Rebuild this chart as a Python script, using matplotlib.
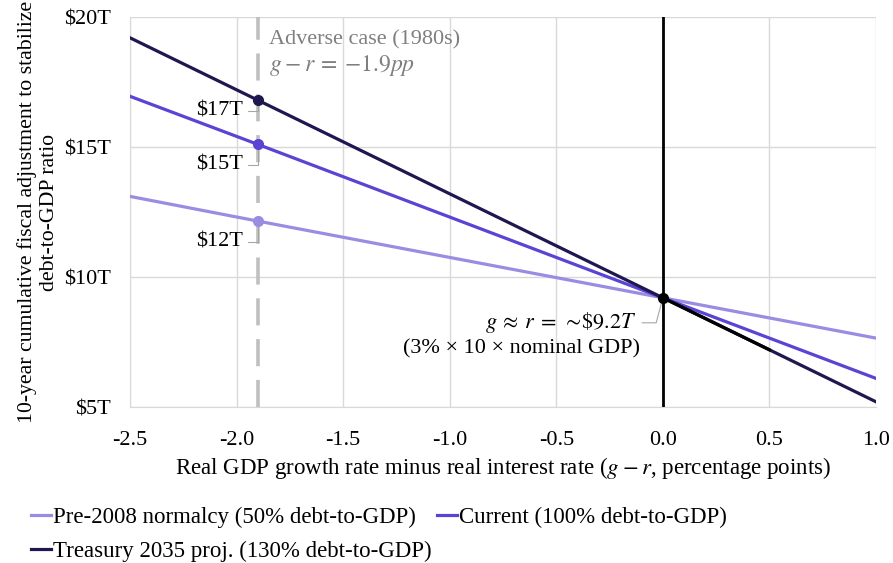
import matplotlib.pyplot as plt
from matplotlib.ticker import FuncFormatter, MultipleLocator

plt.rcParams['font.family'] = ['Liberation Serif', 'DejaVu Serif']
plt.rcParams['mathtext.fontset'] = 'stix'
plt.rcParams['axes.unicode_minus'] = False

# g - r (percentage points) and fiscal adjustment ($T)
gr = [-2.5, -1.9, 0.0, 1.0]
pre2008 = [13.1, 12.15, 9.2, 7.65]
current = [16.95, 15.1, 9.2, 6.1]
treasury = [19.2, 16.8, 9.2, 5.2]
names = ['Pre-2008 normalcy (50% debt-to-GDP)',
         'Current (100% debt-to-GDP)',
         'Treasury 2035 proj. (130% debt-to-GDP)']
colors = ['#9b8ce3', '#5a44d4', '#1e1750']

adverse_x = -1.9
adverse_labels = ['$12T', '$15T', '$17T']
black_x = [0.0, 0.5]
black_y = [9.2, 7.2]

FS = 16

fig = plt.figure(figsize=(8.93, 5.63), dpi=100)
ax = fig.add_axes([130/893, 1-407/563, (876-130)/893, (407-17)/563])

ax.set_xlim(-2.5, 1.0)
ax.set_ylim(5, 20)
ax.xaxis.set_major_locator(MultipleLocator(0.5))
ax.yaxis.set_major_locator(MultipleLocator(5))
ax.xaxis.set_major_formatter(FuncFormatter(lambda v, p: '%.1f' % v))
ax.yaxis.set_major_formatter(FuncFormatter(lambda v, p: '$%dT' % v))
ax.grid(True, color='#d9d9d9', lw=1)
ax.set_axisbelow(True)
for s in ['top', 'right']:
    ax.spines[s].set_visible(False)
for s in ['left', 'bottom']:
    ax.spines[s].set_color('#d9d9d9')
ax.tick_params(length=0, labelsize=FS)
ax.tick_params(axis='x', pad=17)
ax.tick_params(axis='y', pad=14)

# adverse case marker
ax.axvline(adverse_x, color='#bfbfbf', lw=2.6, ls=(0, (7.5, 3.8)), zorder=2)
ax.axvline(0, color='black', lw=2, zorder=4)

series = [pre2008, current, treasury]
lines = []
for ys, c, n in zip(series, colors, names):
    ln, = ax.plot(gr, ys, color=c, lw=2.3, label=n, zorder=3)
    lines.append(ln)
    i = gr.index(adverse_x)
    ax.plot(adverse_x, ys[i], 'o', color=c, ms=7, zorder=5)
ax.plot(black_x, black_y, color='black', lw=2.3, zorder=4)
ax.plot(0, 9.2, 'o', color='black', ms=7, zorder=6)

# value labels at the adverse case
offs = [(-11, -15), (-11, -14.5), (-11, -7.5)]
for ys, lab, off in zip(series, adverse_labels, offs):
    i = gr.index(adverse_x)
    ax.annotate(lab, xy=(adverse_x, ys[i]), xytext=off, textcoords='offset points',
                ha='right', va='center', fontsize=FS,
                arrowprops=dict(arrowstyle='-', color='#a6a6a6', lw=0.8,
                                shrinkA=2, shrinkB=3,
                                connectionstyle='angle,angleA=0,angleB=90,rad=0'))

ax.text(-1.85, 19.5, 'Adverse case (1980s)', color='#7f7f7f', fontsize=FS,
        ha='left', va='top')
ax.text(-1.85, 18.6, r'$g\:-\:r\:=\:{-}1.9pp$', color='#7f7f7f', fontsize=FS + 1,
        ha='left', va='top')

ax.annotate(r'$g\:\approx\:r\:=\:\sim\!\$9.2T$', xy=(0, 9.2), xytext=(-19, -18),
            textcoords='offset points', ha='right', va='center', fontsize=FS,
            arrowprops=dict(arrowstyle='-', color='#a6a6a6', lw=0.8,
                            shrinkA=2, shrinkB=4,
                            connectionstyle='angle,angleA=0,angleB=75,rad=0'))
ax.annotate('(3% × 10 × nominal GDP)', xy=(0, 9.2), xytext=(-16.5, -37),
            textcoords='offset points', ha='right', va='center', fontsize=FS)

ax.set_xlabel(r'Real GDP growth rate minus real interest rate ($g\:-\:r$, percentage points)',
              fontsize=FS + 0.5, labelpad=4)
ax.set_ylabel('10-year cumulative fiscal adjustment to stabilize\ndebt-to-GDP ratio',
              fontsize=FS - 0.3, labelpad=3.5, linespacing=1.2)

fig.legend([lines[0], lines[2], lines[1]], [names[0], names[2], names[1]],
           ncol=2, loc='lower left', bbox_to_anchor=(0.012, -0.035), frameon=False,
           fontsize=FS + 0.5, handlelength=0.85, handletextpad=0.1, columnspacing=0.25,
           labelspacing=0.55)

fig.savefig('out.png', dpi=100)
